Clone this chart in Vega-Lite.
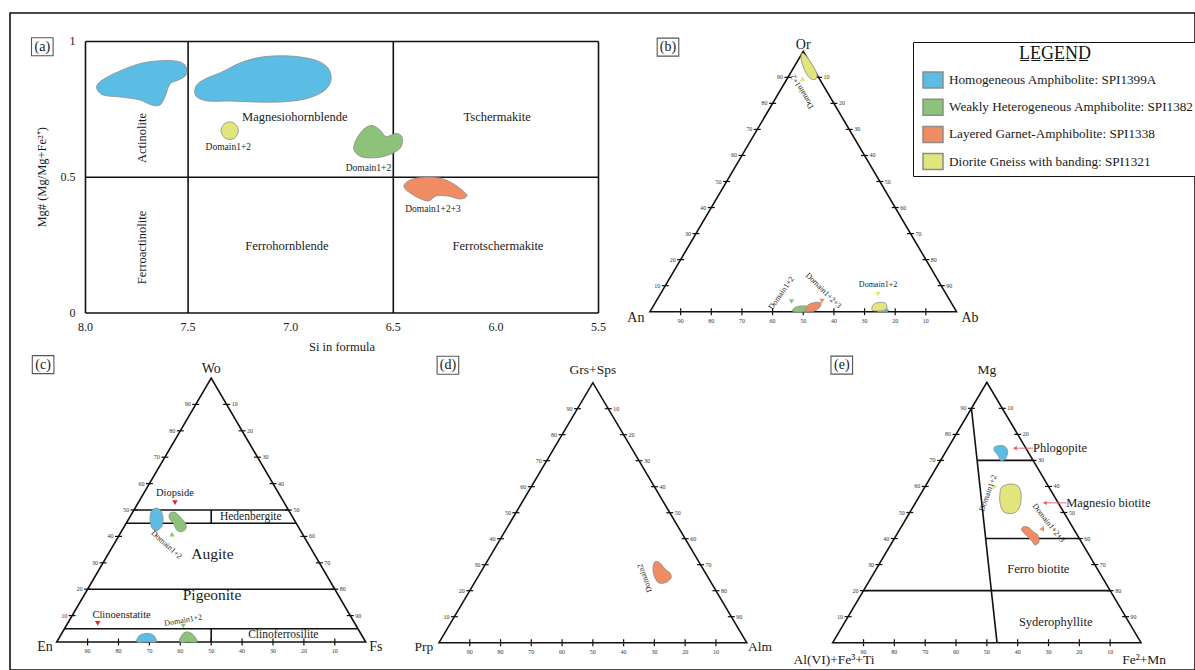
{
  "$schema": "https://vega.github.io/schema/vega-lite/v6.json",
  "width": 1185,
  "height": 657,
  "autosize": {"type": "none"},
  "padding": {"left": 10, "top": 13, "right": 0, "bottom": 0},
  "background": "white",
  "config": {
    "view": {"stroke": "#111111", "strokeWidth": 1.6},
    "text": {"font": "Liberation Serif", "color": "#1a1a1a"},
    "legend": {
      "titleFont": "Liberation Serif", "titleFontSize": 18, "titleFontWeight": "normal", "titleColor": "#111111",
      "titleAnchor": "middle", "titlePadding": 6, "titleLimit": 300,
      "labelFont": "Liberation Serif", "labelFontSize": 13.2, "labelColor": "#1a1a1a", "labelLimit": 400, "labelOffset": 5,
      "symbolType": "M-1,-0.8L1,-0.8L1,0.8L-1,0.8Z", "symbolSize": 400, "symbolStrokeColor": "#8c8c8c", "symbolStrokeWidth": 1.5,
      "symbolOpacity": 1, "rowPadding": 5.2, "padding": 3, "symbolOffset": 6, "strokeColor": "#111111", "fillColor": "#ffffff"
    }
  },
  "datasets": {
    "tri": [{"i": 0, "x": 0, "y": 0}, {"i": 1, "x": 100, "y": 0}, {"i": 2, "x": 50, "y": 86.603}],
    "ticks": [
      {"side": "L", "v": 10, "x": 5, "y": 8.66}, {"side": "L", "v": 20, "x": 10, "y": 17.321}, {"side": "L", "v": 30, "x": 15, "y": 25.981},
      {"side": "L", "v": 40, "x": 20, "y": 34.641}, {"side": "L", "v": 50, "x": 25, "y": 43.301}, {"side": "L", "v": 60, "x": 30, "y": 51.962},
      {"side": "L", "v": 70, "x": 35, "y": 60.622}, {"side": "L", "v": 80, "x": 40, "y": 69.282}, {"side": "L", "v": 90, "x": 45, "y": 77.942},
      {"side": "R", "v": 10, "x": 55, "y": 77.942}, {"side": "R", "v": 20, "x": 60, "y": 69.282}, {"side": "R", "v": 30, "x": 65, "y": 60.622},
      {"side": "R", "v": 40, "x": 70, "y": 51.962}, {"side": "R", "v": 50, "x": 75, "y": 43.301}, {"side": "R", "v": 60, "x": 80, "y": 34.641},
      {"side": "R", "v": 70, "x": 85, "y": 25.981}, {"side": "R", "v": 80, "x": 90, "y": 17.321}, {"side": "R", "v": 90, "x": 95, "y": 8.66},
      {"side": "B", "v": 10, "x": 90, "y": 0}, {"side": "B", "v": 20, "x": 80, "y": 0}, {"side": "B", "v": 30, "x": 70, "y": 0},
      {"side": "B", "v": 40, "x": 60, "y": 0}, {"side": "B", "v": 50, "x": 50, "y": 0}, {"side": "B", "v": 60, "x": 40, "y": 0},
      {"side": "B", "v": 70, "x": 30, "y": 0}, {"side": "B", "v": 80, "x": 20, "y": 0}, {"side": "B", "v": 90, "x": 10, "y": 0}
    ]
  },
  "resolve": {"scale": {"x": "independent", "y": "independent"}},
  "layer": [
    {
      "encoding": {
        "x": {"field": "si", "type": "quantitative", "scale": {"domain": [8.36793, 2.59308], "nice": false, "zero": false}, "axis": null},
        "y": {"field": "mg", "type": "quantitative", "scale": {"domain": [-1.31492, 1.10497], "nice": false, "zero": false}, "axis": null}
      },
      "layer": [
        {
          "data": {"values": [
            {"si": 8.0, "mg": 0, "si2": 8.0, "mg2": 1}, {"si": 7.5, "mg": 0, "si2": 7.5, "mg2": 1},
            {"si": 6.5, "mg": 0, "si2": 6.5, "mg2": 1}, {"si": 5.5, "mg": 0, "si2": 5.5, "mg2": 1},
            {"si": 8.0, "mg": 0, "si2": 5.5, "mg2": 0}, {"si": 8.0, "mg": 0.5, "si2": 5.5, "mg2": 0.5},
            {"si": 8.0, "mg": 1, "si2": 5.5, "mg2": 1}
          ]},
          "mark": {"type": "rule", "stroke": "#111111", "strokeWidth": 1.6},
          "encoding": {"x2": {"field": "si2"}, "y2": {"field": "mg2"}}
        },
        {
          "data": {"values": [
            {"sample": "Homogeneous Amphibolite: SPI1399A", "blob": "a1", "i": 0, "si": 7.9454, "mg": 0.8276},
            {"sample": "Homogeneous Amphibolite: SPI1399A", "blob": "a1", "i": 1, "si": 7.9293, "mg": 0.8519},
            {"sample": "Homogeneous Amphibolite: SPI1399A", "blob": "a1", "i": 2, "si": 7.8645, "mg": 0.8803},
            {"sample": "Homogeneous Amphibolite: SPI1399A", "blob": "a1", "i": 3, "si": 7.7671, "mg": 0.9109},
            {"sample": "Homogeneous Amphibolite: SPI1399A", "blob": "a1", "i": 4, "si": 7.6857, "mg": 0.9256},
            {"sample": "Homogeneous Amphibolite: SPI1399A", "blob": "a1", "i": 5, "si": 7.5721, "mg": 0.9293},
            {"sample": "Homogeneous Amphibolite: SPI1399A", "blob": "a1", "i": 6, "si": 7.5151, "mg": 0.9134},
            {"sample": "Homogeneous Amphibolite: SPI1399A", "blob": "a1", "i": 7, "si": 7.5102, "mg": 0.8766},
            {"sample": "Homogeneous Amphibolite: SPI1399A", "blob": "a1", "i": 8, "si": 7.5478, "mg": 0.8582},
            {"sample": "Homogeneous Amphibolite: SPI1399A", "blob": "a1", "i": 9, "si": 7.5882, "mg": 0.8435},
            {"sample": "Homogeneous Amphibolite: SPI1399A", "blob": "a1", "i": 10, "si": 7.6126, "mg": 0.7967},
            {"sample": "Homogeneous Amphibolite: SPI1399A", "blob": "a1", "i": 11, "si": 7.637, "mg": 0.7661},
            {"sample": "Homogeneous Amphibolite: SPI1399A", "blob": "a1", "i": 12, "si": 7.6774, "mg": 0.7661},
            {"sample": "Homogeneous Amphibolite: SPI1399A", "blob": "a1", "i": 13, "si": 7.7344, "mg": 0.7845},
            {"sample": "Homogeneous Amphibolite: SPI1399A", "blob": "a1", "i": 14, "si": 7.8158, "mg": 0.7945},
            {"sample": "Homogeneous Amphibolite: SPI1399A", "blob": "a1", "i": 15, "si": 7.9133, "mg": 0.8029},
            {"sample": "Homogeneous Amphibolite: SPI1399A", "blob": "a2", "i": 0, "si": 7.4615, "mg": 0.7993},
            {"sample": "Homogeneous Amphibolite: SPI1399A", "blob": "a2", "i": 1, "si": 7.4615, "mg": 0.8361},
            {"sample": "Homogeneous Amphibolite: SPI1399A", "blob": "a2", "i": 2, "si": 7.4176, "mg": 0.8619},
            {"sample": "Homogeneous Amphibolite: SPI1399A", "blob": "a2", "i": 3, "si": 7.3348, "mg": 0.8877},
            {"sample": "Homogeneous Amphibolite: SPI1399A", "blob": "a2", "i": 4, "si": 7.2471, "mg": 0.9208},
            {"sample": "Homogeneous Amphibolite: SPI1399A", "blob": "a2", "i": 5, "si": 7.1399, "mg": 0.9429},
            {"sample": "Homogeneous Amphibolite: SPI1399A", "blob": "a2", "i": 6, "si": 7.0034, "mg": 0.9466},
            {"sample": "Homogeneous Amphibolite: SPI1399A", "blob": "a2", "i": 7, "si": 6.8816, "mg": 0.9319},
            {"sample": "Homogeneous Amphibolite: SPI1399A", "blob": "a2", "i": 8, "si": 6.8183, "mg": 0.9024},
            {"sample": "Homogeneous Amphibolite: SPI1399A", "blob": "a2", "i": 9, "si": 6.8036, "mg": 0.8582},
            {"sample": "Homogeneous Amphibolite: SPI1399A", "blob": "a2", "i": 10, "si": 6.8378, "mg": 0.8177},
            {"sample": "Homogeneous Amphibolite: SPI1399A", "blob": "a2", "i": 11, "si": 6.9304, "mg": 0.7882},
            {"sample": "Homogeneous Amphibolite: SPI1399A", "blob": "a2", "i": 12, "si": 7.0522, "mg": 0.7772},
            {"sample": "Homogeneous Amphibolite: SPI1399A", "blob": "a2", "i": 13, "si": 7.174, "mg": 0.7772},
            {"sample": "Homogeneous Amphibolite: SPI1399A", "blob": "a2", "i": 14, "si": 7.2958, "mg": 0.7808},
            {"sample": "Homogeneous Amphibolite: SPI1399A", "blob": "a2", "i": 15, "si": 7.403, "mg": 0.7808},
            {"sample": "Weakly Heterogeneous Amphibolite: SPI1382", "blob": "a4", "i": 0, "si": 6.6038, "mg": 0.6906},
            {"sample": "Weakly Heterogeneous Amphibolite: SPI1382", "blob": "a4", "i": 1, "si": 6.5648, "mg": 0.674},
            {"sample": "Weakly Heterogeneous Amphibolite: SPI1382", "blob": "a4", "i": 2, "si": 6.5356, "mg": 0.6501},
            {"sample": "Weakly Heterogeneous Amphibolite: SPI1382", "blob": "a4", "i": 3, "si": 6.4869, "mg": 0.6611},
            {"sample": "Weakly Heterogeneous Amphibolite: SPI1382", "blob": "a4", "i": 4, "si": 6.4576, "mg": 0.6483},
            {"sample": "Weakly Heterogeneous Amphibolite: SPI1382", "blob": "a4", "i": 5, "si": 6.4625, "mg": 0.6114},
            {"sample": "Weakly Heterogeneous Amphibolite: SPI1382", "blob": "a4", "i": 6, "si": 6.5063, "mg": 0.5875},
            {"sample": "Weakly Heterogeneous Amphibolite: SPI1382", "blob": "a4", "i": 7, "si": 6.5746, "mg": 0.5727},
            {"sample": "Weakly Heterogeneous Amphibolite: SPI1382", "blob": "a4", "i": 8, "si": 6.6526, "mg": 0.5746},
            {"sample": "Weakly Heterogeneous Amphibolite: SPI1382", "blob": "a4", "i": 9, "si": 6.6915, "mg": 0.6004},
            {"sample": "Weakly Heterogeneous Amphibolite: SPI1382", "blob": "a4", "i": 10, "si": 6.6818, "mg": 0.6372},
            {"sample": "Weakly Heterogeneous Amphibolite: SPI1382", "blob": "a4", "i": 11, "si": 6.6428, "mg": 0.6777},
            {"sample": "Layered Garnet-Amphibolite: SPI1338", "blob": "a5", "i": 0, "si": 6.4478, "mg": 0.4641},
            {"sample": "Layered Garnet-Amphibolite: SPI1338", "blob": "a5", "i": 1, "si": 6.4186, "mg": 0.4899},
            {"sample": "Layered Garnet-Amphibolite: SPI1338", "blob": "a5", "i": 2, "si": 6.3455, "mg": 0.5009},
            {"sample": "Layered Garnet-Amphibolite: SPI1338", "blob": "a5", "i": 3, "si": 6.2724, "mg": 0.4972},
            {"sample": "Layered Garnet-Amphibolite: SPI1338", "blob": "a5", "i": 4, "si": 6.2139, "mg": 0.4788},
            {"sample": "Layered Garnet-Amphibolite: SPI1338", "blob": "a5", "i": 5, "si": 6.1652, "mg": 0.453},
            {"sample": "Layered Garnet-Amphibolite: SPI1338", "blob": "a5", "i": 6, "si": 6.1408, "mg": 0.4309},
            {"sample": "Layered Garnet-Amphibolite: SPI1338", "blob": "a5", "i": 7, "si": 6.175, "mg": 0.4199},
            {"sample": "Layered Garnet-Amphibolite: SPI1338", "blob": "a5", "i": 8, "si": 6.2335, "mg": 0.4309},
            {"sample": "Layered Garnet-Amphibolite: SPI1338", "blob": "a5", "i": 9, "si": 6.2919, "mg": 0.4309},
            {"sample": "Layered Garnet-Amphibolite: SPI1338", "blob": "a5", "i": 10, "si": 6.3309, "mg": 0.4125},
            {"sample": "Layered Garnet-Amphibolite: SPI1338", "blob": "a5", "i": 11, "si": 6.3943, "mg": 0.4309},
            {"sample": "Diorite Gneiss with banding: SPI1321", "blob": "a3", "i": 0, "si": 7.3397, "mg": 0.6703},
            {"sample": "Diorite Gneiss with banding: SPI1321", "blob": "a3", "i": 1, "si": 7.325, "mg": 0.6961},
            {"sample": "Diorite Gneiss with banding: SPI1321", "blob": "a3", "i": 2, "si": 7.2909, "mg": 0.7035},
            {"sample": "Diorite Gneiss with banding: SPI1321", "blob": "a3", "i": 3, "si": 7.2617, "mg": 0.6888},
            {"sample": "Diorite Gneiss with banding: SPI1321", "blob": "a3", "i": 4, "si": 7.2568, "mg": 0.663},
            {"sample": "Diorite Gneiss with banding: SPI1321", "blob": "a3", "i": 5, "si": 7.2812, "mg": 0.6409},
            {"sample": "Diorite Gneiss with banding: SPI1321", "blob": "a3", "i": 6, "si": 7.3202, "mg": 0.6446}
          ]},
          "mark": {"type": "line", "interpolate": "cardinal-closed", "stroke": "#8c8c8c", "strokeWidth": 0.8},
          "encoding": {
            "detail": {"field": "blob", "type": "nominal"},
            "order": {"field": "i", "type": "quantitative"},
            "fill": {"field": "sample", "type": "nominal", "title": "L̲E̲G̲E̲N̲D̲", "scale": {"domain": ["Homogeneous Amphibolite: SPI1399A", "Weakly Heterogeneous Amphibolite: SPI1382", "Layered Garnet-Amphibolite: SPI1338", "Diorite Gneiss with banding: SPI1321"], "range": ["#5bbde4", "#8cc27a", "#f08c63", "#e2e57b"]}, "legend": {"orient": "none", "legendX": 903, "legendY": 29}}
          }
        },
        {
          "data": {"values": [{"si": 8.0, "mg": 1, "t": "1"}, {"si": 8.0, "mg": 0.5, "t": "0.5"}, {"si": 8.0, "mg": 0, "t": "0"}]},
          "mark": {"type": "text", "align": "right", "dx": -10, "fontSize": 12},
          "encoding": {"text": {"field": "t", "type": "nominal"}}
        },
        {
          "data": {"values": [
            {"si": 8.0, "mg": 0, "t": "8.0"}, {"si": 7.5, "mg": 0, "t": "7.5"}, {"si": 7.0, "mg": 0, "t": "7.0"},
            {"si": 6.5, "mg": 0, "t": "6.5"}, {"si": 6.0, "mg": 0, "t": "6.0"}, {"si": 5.5, "mg": 0, "t": "5.5"}
          ]},
          "mark": {"type": "text", "dy": 14, "fontSize": 12},
          "encoding": {"text": {"field": "t", "type": "nominal"}}
        },
        {
          "data": {"values": [{"si": 6.75, "mg": 0, "t": "Si in formula"}]},
          "mark": {"type": "text", "dy": 34, "fontSize": 12.5},
          "encoding": {"text": {"field": "t", "type": "nominal"}}
        },
        {
          "data": {"values": [{"si": 8.213, "mg": 0.5, "t": "Mg# (Mg/Mg+Fe²⁺)"}]},
          "mark": {"type": "text", "angle": 270, "fontSize": 12.5},
          "encoding": {"text": {"field": "t", "type": "nominal"}}
        },
        {
          "data": {"values": [
            {"si": 6.98, "mg": 0.7208, "t": "Magnesiohornblende"}, {"si": 5.994, "mg": 0.7208, "t": "Tschermakite"},
            {"si": 7.0185, "mg": 0.2468, "t": "Ferrohornblende"}, {"si": 5.99, "mg": 0.2468, "t": "Ferrotschermakite"}
          ]},
          "mark": {"type": "text", "fontSize": 12.5},
          "encoding": {"text": {"field": "t", "type": "nominal"}}
        },
        {
          "data": {"values": [{"si": 7.7247, "mg": 0.6446, "t": "Actinolite"}, {"si": 7.7247, "mg": 0.2413, "t": "Ferroactinolite"}]},
          "mark": {"type": "text", "angle": 270, "fontSize": 12.5},
          "encoding": {"text": {"field": "t", "type": "nominal"}}
        },
        {
          "data": {"values": [
            {"si": 7.3041, "mg": 0.6103, "t": "Domain1+2"}, {"si": 6.6209, "mg": 0.5352, "t": "Domain1+2"},
            {"si": 6.3065, "mg": 0.3819, "t": "Domain1+2+3"}
          ]},
          "mark": {"type": "text", "fontSize": 9.5},
          "encoding": {"text": {"field": "t", "type": "nominal"}}
        },
        {
          "data": {"values": [{"si": 8.2105, "mg": 0.9808, "t": "(a)"}]},
          "layer": [
            {"mark": {"type": "point", "shape": "M-1.2,-1L1.2,-1L1.2,1L-1.2,1Z", "size": 324, "filled": false, "stroke": "#555555", "strokeWidth": 1.1, "opacity": 1}},
            {"mark": {"type": "text", "fontSize": 14}, "encoding": {"text": {"field": "t", "type": "nominal"}}}
          ]
        }
      ]
    },
    {
      "encoding": {
        "x": {"field": "x", "type": "quantitative", "scale": {"domain": [-208.809, 177.814], "nice": false, "zero": false}, "axis": null},
        "y": {"field": "y", "type": "quantitative", "scale": {"domain": [-119.164, 99.341], "nice": false, "zero": false}, "axis": null}
      },
      "layer": [
        {"data": {"name": "tri"}, "mark": {"type": "line", "interpolate": "linear-closed", "stroke": "#111111", "strokeWidth": 1.6}, "encoding": {"order": {"field": "i", "type": "quantitative"}}},
        {"data": {"name": "ticks"}, "transform": [{"filter": "datum.side !== 'B'"}], "mark": {"type": "tick", "orient": "horizontal", "size": 7, "thickness": 1.2, "color": "#111111", "opacity": 1}},
        {"data": {"name": "ticks"}, "transform": [{"filter": "datum.side === 'B'"}], "mark": {"type": "tick", "orient": "vertical", "size": 7, "thickness": 1.2, "color": "#111111", "opacity": 1}},
        {"data": {"name": "ticks"}, "transform": [{"filter": "datum.side === 'L'"}], "mark": {"type": "text", "align": "right", "dx": -5, "fontSize": 6, "color": "#333333"}, "encoding": {"text": {"field": "v", "type": "quantitative"}}},
        {"data": {"name": "ticks"}, "transform": [{"filter": "datum.side === 'R'"}], "mark": {"type": "text", "align": "left", "dx": 5, "fontSize": 6, "color": "#333333"}, "encoding": {"text": {"field": "v", "type": "quantitative"}}},
        {"data": {"name": "ticks"}, "transform": [{"filter": "datum.side === 'B'"}], "mark": {"type": "text", "dy": 9, "fontSize": 6, "color": "#333333"}, "encoding": {"text": {"field": "v", "type": "quantitative"}}},
        {
          "data": {"values": [
            {"sample": "Weakly Heterogeneous Amphibolite: SPI1382", "blob": "b2", "i": 0, "x": 46.66, "y": 0.07},
            {"sample": "Weakly Heterogeneous Amphibolite: SPI1382", "blob": "b2", "i": 1, "x": 47.31, "y": 1.4},
            {"sample": "Weakly Heterogeneous Amphibolite: SPI1382", "blob": "b2", "i": 2, "x": 49.27, "y": 1.9},
            {"sample": "Weakly Heterogeneous Amphibolite: SPI1382", "blob": "b2", "i": 3, "x": 51.55, "y": 1.73},
            {"sample": "Weakly Heterogeneous Amphibolite: SPI1382", "blob": "b2", "i": 4, "x": 52.2, "y": 0.73},
            {"sample": "Weakly Heterogeneous Amphibolite: SPI1382", "blob": "b2", "i": 5, "x": 50.9, "y": 0},
            {"sample": "Layered Garnet-Amphibolite: SPI1338", "blob": "b3", "i": 0, "x": 50.9, "y": 0.23},
            {"sample": "Layered Garnet-Amphibolite: SPI1338", "blob": "b3", "i": 1, "x": 51.55, "y": 2.23},
            {"sample": "Layered Garnet-Amphibolite: SPI1338", "blob": "b3", "i": 2, "x": 53.83, "y": 3.06},
            {"sample": "Layered Garnet-Amphibolite: SPI1338", "blob": "b3", "i": 3, "x": 55.79, "y": 2.89},
            {"sample": "Layered Garnet-Amphibolite: SPI1338", "blob": "b3", "i": 4, "x": 55.14, "y": 1.23},
            {"sample": "Layered Garnet-Amphibolite: SPI1338", "blob": "b3", "i": 5, "x": 53.18, "y": 0.07},
            {"sample": "Homogeneous Amphibolite: SPI1399A", "blob": "b4", "i": 0, "x": 74.39, "y": 0},
            {"sample": "Homogeneous Amphibolite: SPI1399A", "blob": "b4", "i": 1, "x": 75.04, "y": 1.06},
            {"sample": "Homogeneous Amphibolite: SPI1399A", "blob": "b4", "i": 2, "x": 76.67, "y": 1.23},
            {"sample": "Homogeneous Amphibolite: SPI1399A", "blob": "b4", "i": 3, "x": 77.65, "y": 0.73},
            {"sample": "Homogeneous Amphibolite: SPI1399A", "blob": "b4", "i": 4, "x": 77.32, "y": 0},
            {"sample": "Diorite Gneiss with banding: SPI1321", "blob": "b5", "i": 0, "x": 72.43, "y": 0.57},
            {"sample": "Diorite Gneiss with banding: SPI1321", "blob": "b5", "i": 1, "x": 72.76, "y": 2.23},
            {"sample": "Diorite Gneiss with banding: SPI1321", "blob": "b5", "i": 2, "x": 74.39, "y": 3.06},
            {"sample": "Diorite Gneiss with banding: SPI1321", "blob": "b5", "i": 3, "x": 76.67, "y": 2.89},
            {"sample": "Diorite Gneiss with banding: SPI1321", "blob": "b5", "i": 4, "x": 77.32, "y": 1.56},
            {"sample": "Diorite Gneiss with banding: SPI1321", "blob": "b5", "i": 5, "x": 76.35, "y": 0.4},
            {"sample": "Diorite Gneiss with banding: SPI1321", "blob": "b5", "i": 6, "x": 73.74, "y": 0.23},
            {"sample": "Diorite Gneiss with banding: SPI1321", "blob": "b1", "i": 0, "x": 49.9, "y": 86.0},
            {"sample": "Diorite Gneiss with banding: SPI1321", "blob": "b1", "i": 1, "x": 51.22, "y": 84.71},
            {"sample": "Diorite Gneiss with banding: SPI1321", "blob": "b1", "i": 2, "x": 53.18, "y": 81.72},
            {"sample": "Diorite Gneiss with banding: SPI1321", "blob": "b1", "i": 3, "x": 54.49, "y": 79.06},
            {"sample": "Diorite Gneiss with banding: SPI1321", "blob": "b1", "i": 4, "x": 54.16, "y": 77.4},
            {"sample": "Diorite Gneiss with banding: SPI1321", "blob": "b1", "i": 5, "x": 52.53, "y": 77.4},
            {"sample": "Diorite Gneiss with banding: SPI1321", "blob": "b1", "i": 6, "x": 50.9, "y": 79.39},
            {"sample": "Diorite Gneiss with banding: SPI1321", "blob": "b1", "i": 7, "x": 49.59, "y": 82.72},
            {"sample": "Diorite Gneiss with banding: SPI1321", "blob": "b1", "i": 8, "x": 49.27, "y": 85.05}
          ]},
          "mark": {"type": "line", "interpolate": "cardinal-closed", "stroke": "#8c8c8c", "strokeWidth": 0.8},
          "encoding": {
            "detail": {"field": "blob", "type": "nominal"},
            "order": {"field": "i", "type": "quantitative"},
            "fill": {"field": "sample", "type": "nominal", "title": "L̲E̲G̲E̲N̲D̲", "scale": {"domain": ["Homogeneous Amphibolite: SPI1399A", "Weakly Heterogeneous Amphibolite: SPI1382", "Layered Garnet-Amphibolite: SPI1338", "Diorite Gneiss with banding: SPI1321"], "range": ["#5bbde4", "#8cc27a", "#f08c63", "#e2e57b"]}, "legend": {"orient": "none", "legendX": 903, "legendY": 29}}
          }
        },
        {
          "data": {"values": [{"x": 49.8, "y": 77.5, "sample": "Diorite Gneiss with banding: SPI1321"}]},
          "mark": {"type": "point", "shape": "triangle-up", "filled": true, "size": 28, "opacity": 1, "strokeWidth": 0},
          "encoding": {"fill": {"field": "sample", "type": "nominal", "title": "L̲E̲G̲E̲N̲D̲", "scale": {"domain": ["Homogeneous Amphibolite: SPI1399A", "Weakly Heterogeneous Amphibolite: SPI1382", "Layered Garnet-Amphibolite: SPI1338", "Diorite Gneiss with banding: SPI1321"], "range": ["#5bbde4", "#8cc27a", "#f08c63", "#e2e57b"]}, "legend": {"orient": "none", "legendX": 903, "legendY": 29}}}
        },
        {
          "data": {"values": [
            {"x": 46.17, "y": 3.39, "sample": "Weakly Heterogeneous Amphibolite: SPI1382"},
            {"x": 56.12, "y": 3.56, "sample": "Layered Garnet-Amphibolite: SPI1338"},
            {"x": 74.39, "y": 5.89, "sample": "Diorite Gneiss with banding: SPI1321"}
          ]},
          "mark": {"type": "point", "shape": "triangle-down", "filled": true, "size": 28, "opacity": 1, "strokeWidth": 0},
          "encoding": {"fill": {"field": "sample", "type": "nominal", "title": "L̲E̲G̲E̲N̲D̲", "scale": {"domain": ["Homogeneous Amphibolite: SPI1399A", "Weakly Heterogeneous Amphibolite: SPI1382", "Layered Garnet-Amphibolite: SPI1338", "Diorite Gneiss with banding: SPI1321"], "range": ["#5bbde4", "#8cc27a", "#f08c63", "#e2e57b"]}, "legend": {"orient": "none", "legendX": 903, "legendY": 29}}}
        },
        {
          "data": {"values": [{"x": 50, "y": 88.8, "t": "Or"}, {"x": -4.6, "y": -2.1, "t": "An"}, {"x": 104.4, "y": -2.1, "t": "Ab"}]},
          "mark": {"type": "text", "fontSize": 14},
          "encoding": {"text": {"field": "t", "type": "nominal"}}
        },
        {"data": {"values": [{"x": 49.76, "y": 73.23, "t": "Domain1+2"}]}, "mark": {"type": "text", "angle": 240, "fontSize": 8}, "encoding": {"text": {"field": "t", "type": "nominal"}}},
        {"data": {"values": [{"x": 42.97, "y": 6.12, "t": "Domain1+2"}]}, "mark": {"type": "text", "angle": 305, "fontSize": 8}, "encoding": {"text": {"field": "t", "type": "nominal"}}},
        {"data": {"values": [{"x": 56.54, "y": 6.95, "t": "Domain1+2+3"}]}, "mark": {"type": "text", "angle": 45, "fontSize": 8}, "encoding": {"text": {"field": "t", "type": "nominal"}}},
        {"data": {"values": [{"x": 74.39, "y": 8.88, "t": "Domain1+2"}]}, "mark": {"type": "text", "fontSize": 8}, "encoding": {"text": {"field": "t", "type": "nominal"}}},
        {
          "data": {"values": [{"x": 5.87, "y": 88.0, "t": "(b)"}]},
          "layer": [
            {"mark": {"type": "point", "shape": "M-1.2,-1L1.2,-1L1.2,1L-1.2,1Z", "size": 324, "filled": false, "stroke": "#555555", "strokeWidth": 1.1, "opacity": 1}},
            {"mark": {"type": "text", "fontSize": 14}, "encoding": {"text": {"field": "t", "type": "nominal"}}}
          ]
        }
      ]
    },
    {
      "encoding": {
        "x": {"field": "x", "type": "quantitative", "scale": {"domain": [-15.113, 368.382], "nice": false, "zero": false}, "axis": null},
        "y": {"field": "y", "type": "quantitative", "scale": {"domain": [-9.185, 206.338], "nice": false, "zero": false}, "axis": null}
      },
      "layer": [
        {"data": {"name": "tri"}, "mark": {"type": "line", "interpolate": "linear-closed", "stroke": "#111111", "strokeWidth": 1.6}, "encoding": {"order": {"field": "i", "type": "quantitative"}}},
        {"data": {"name": "ticks"}, "transform": [{"filter": "datum.side !== 'B'"}], "mark": {"type": "tick", "orient": "horizontal", "size": 7, "thickness": 1.2, "color": "#111111", "opacity": 1}},
        {"data": {"name": "ticks"}, "transform": [{"filter": "datum.side === 'B'"}], "mark": {"type": "tick", "orient": "vertical", "size": 7, "thickness": 1.2, "color": "#111111", "opacity": 1}},
        {"data": {"name": "ticks"}, "transform": [{"filter": "datum.side === 'L'"}], "mark": {"type": "text", "align": "right", "dx": -5, "fontSize": 6, "color": "#333333"}, "encoding": {"text": {"field": "v", "type": "quantitative"}}},
        {"data": {"name": "ticks"}, "transform": [{"filter": "datum.side === 'R'"}], "mark": {"type": "text", "align": "left", "dx": 5, "fontSize": 6, "color": "#333333"}, "encoding": {"text": {"field": "v", "type": "quantitative"}}},
        {"data": {"name": "ticks"}, "transform": [{"filter": "datum.side === 'B'"}], "mark": {"type": "text", "dy": 9, "fontSize": 6, "color": "#333333"}, "encoding": {"text": {"field": "v", "type": "quantitative"}}},
        {
          "data": {"values": [
            {"x": 25, "y": 43.301, "x2": 75, "y2": 43.301}, {"x": 22.5, "y": 38.971, "x2": 77.5, "y2": 38.971},
            {"x": 10, "y": 17.321, "x2": 90, "y2": 17.321}, {"x": 2.5, "y": 4.33, "x2": 97.5, "y2": 4.33},
            {"x": 50, "y": 38.971, "x2": 50, "y2": 43.301}, {"x": 50, "y": 0, "x2": 50, "y2": 4.33}
          ]},
          "mark": {"type": "rule", "stroke": "#111111", "strokeWidth": 1.6},
          "encoding": {"x2": {"field": "x2"}, "y2": {"field": "y2"}}
        },
        {
          "data": {"values": [
            {"sample": "Homogeneous Amphibolite: SPI1399A", "blob": "c1", "i": 0, "x": 32.3, "y": 43.96},
            {"sample": "Homogeneous Amphibolite: SPI1399A", "blob": "c1", "i": 1, "x": 33.75, "y": 42.97},
            {"sample": "Homogeneous Amphibolite: SPI1399A", "blob": "c1", "i": 2, "x": 34.4, "y": 40.68},
            {"sample": "Homogeneous Amphibolite: SPI1399A", "blob": "c1", "i": 3, "x": 34.08, "y": 38.05},
            {"sample": "Homogeneous Amphibolite: SPI1399A", "blob": "c1", "i": 4, "x": 32.46, "y": 36.58},
            {"sample": "Homogeneous Amphibolite: SPI1399A", "blob": "c1", "i": 5, "x": 30.84, "y": 37.4},
            {"sample": "Homogeneous Amphibolite: SPI1399A", "blob": "c1", "i": 6, "x": 30.19, "y": 40.35},
            {"sample": "Homogeneous Amphibolite: SPI1399A", "blob": "c1", "i": 7, "x": 30.68, "y": 42.97},
            {"sample": "Homogeneous Amphibolite: SPI1399A", "blob": "c3", "i": 0, "x": 25.99, "y": 0},
            {"sample": "Homogeneous Amphibolite: SPI1399A", "blob": "c3", "i": 1, "x": 26.63, "y": 1.97},
            {"sample": "Homogeneous Amphibolite: SPI1399A", "blob": "c3", "i": 2, "x": 28.58, "y": 2.79},
            {"sample": "Homogeneous Amphibolite: SPI1399A", "blob": "c3", "i": 3, "x": 30.52, "y": 2.62},
            {"sample": "Homogeneous Amphibolite: SPI1399A", "blob": "c3", "i": 4, "x": 31.81, "y": 1.64},
            {"sample": "Homogeneous Amphibolite: SPI1399A", "blob": "c3", "i": 5, "x": 32.14, "y": 0},
            {"sample": "Homogeneous Amphibolite: SPI1399A", "blob": "c3", "i": 6, "x": 29.06, "y": 0},
            {"sample": "Weakly Heterogeneous Amphibolite: SPI1382", "blob": "c2", "i": 0, "x": 36.67, "y": 42.22},
            {"sample": "Weakly Heterogeneous Amphibolite: SPI1382", "blob": "c2", "i": 1, "x": 38.28, "y": 42.55},
            {"sample": "Weakly Heterogeneous Amphibolite: SPI1382", "blob": "c2", "i": 2, "x": 39.9, "y": 41.1},
            {"sample": "Weakly Heterogeneous Amphibolite: SPI1382", "blob": "c2", "i": 3, "x": 41.52, "y": 39.14},
            {"sample": "Weakly Heterogeneous Amphibolite: SPI1382", "blob": "c2", "i": 4, "x": 41.84, "y": 37.3},
            {"sample": "Weakly Heterogeneous Amphibolite: SPI1382", "blob": "c2", "i": 5, "x": 40.45, "y": 36.18},
            {"sample": "Weakly Heterogeneous Amphibolite: SPI1382", "blob": "c2", "i": 6, "x": 38.83, "y": 36.74},
            {"sample": "Weakly Heterogeneous Amphibolite: SPI1382", "blob": "c2", "i": 7, "x": 37.74, "y": 38.94},
            {"sample": "Weakly Heterogeneous Amphibolite: SPI1382", "blob": "c2", "i": 8, "x": 36.44, "y": 40.58},
            {"sample": "Weakly Heterogeneous Amphibolite: SPI1382", "blob": "c4", "i": 0, "x": 39.9, "y": 0},
            {"sample": "Weakly Heterogeneous Amphibolite: SPI1382", "blob": "c4", "i": 1, "x": 40.55, "y": 2.3},
            {"sample": "Weakly Heterogeneous Amphibolite: SPI1382", "blob": "c4", "i": 2, "x": 41.84, "y": 3.28},
            {"sample": "Weakly Heterogeneous Amphibolite: SPI1382", "blob": "c4", "i": 3, "x": 43.46, "y": 2.95},
            {"sample": "Weakly Heterogeneous Amphibolite: SPI1382", "blob": "c4", "i": 4, "x": 44.76, "y": 1.64},
            {"sample": "Weakly Heterogeneous Amphibolite: SPI1382", "blob": "c4", "i": 5, "x": 45.4, "y": 0},
            {"sample": "Weakly Heterogeneous Amphibolite: SPI1382", "blob": "c4", "i": 6, "x": 42.49, "y": 0}
          ]},
          "mark": {"type": "line", "interpolate": "cardinal-closed", "stroke": "#8c8c8c", "strokeWidth": 0.8},
          "encoding": {
            "detail": {"field": "blob", "type": "nominal"},
            "order": {"field": "i", "type": "quantitative"},
            "fill": {"field": "sample", "type": "nominal", "title": "L̲E̲G̲E̲N̲D̲", "scale": {"domain": ["Homogeneous Amphibolite: SPI1399A", "Weakly Heterogeneous Amphibolite: SPI1382", "Layered Garnet-Amphibolite: SPI1338", "Diorite Gneiss with banding: SPI1321"], "range": ["#5bbde4", "#8cc27a", "#f08c63", "#e2e57b"]}, "legend": {"orient": "none", "legendX": 903, "legendY": 29}}
          }
        },
        {
          "data": {"values": [{"x": 37.31, "y": 35.33, "sample": "Weakly Heterogeneous Amphibolite: SPI1382"}]},
          "mark": {"type": "point", "shape": "triangle-up", "filled": true, "size": 28, "opacity": 1, "strokeWidth": 0},
          "encoding": {"fill": {"field": "sample", "type": "nominal", "title": "L̲E̲G̲E̲N̲D̲", "scale": {"domain": ["Homogeneous Amphibolite: SPI1399A", "Weakly Heterogeneous Amphibolite: SPI1382", "Layered Garnet-Amphibolite: SPI1338", "Diorite Gneiss with banding: SPI1321"], "range": ["#5bbde4", "#8cc27a", "#f08c63", "#e2e57b"]}, "legend": {"orient": "none", "legendX": 903, "legendY": 29}}}
        },
        {
          "data": {"values": [{"x": 40.97, "y": 5.25, "sample": "Weakly Heterogeneous Amphibolite: SPI1382"}]},
          "mark": {"type": "point", "shape": "triangle-down", "filled": true, "size": 28, "opacity": 1, "strokeWidth": 0},
          "encoding": {"fill": {"field": "sample", "type": "nominal", "title": "L̲E̲G̲E̲N̲D̲", "scale": {"domain": ["Homogeneous Amphibolite: SPI1399A", "Weakly Heterogeneous Amphibolite: SPI1382", "Layered Garnet-Amphibolite: SPI1338", "Diorite Gneiss with banding: SPI1321"], "range": ["#5bbde4", "#8cc27a", "#f08c63", "#e2e57b"]}, "legend": {"orient": "none", "legendX": 903, "legendY": 29}}}
        },
        {
          "data": {"values": [{"x": 38.28, "y": 45.7}, {"x": 13.27, "y": 6.13}]},
          "mark": {"type": "point", "shape": "triangle-down", "filled": true, "size": 30, "opacity": 1, "color": "#e32626", "strokeWidth": 0}
        },
        {
          "data": {"values": [{"x": 50, "y": 89.6, "t": "Wo"}, {"x": -3.8, "y": -1.6, "t": "En"}, {"x": 103.3, "y": -1.6, "t": "Fs"}]},
          "mark": {"type": "text", "fontSize": 14},
          "encoding": {"text": {"field": "t", "type": "nominal"}}
        },
        {
          "data": {"values": [{"x": 38.28, "y": 48.88, "t": "Diopside"}, {"x": 21.0, "y": 8.86, "t": "Clinoenstatite"}]},
          "mark": {"type": "text", "fontSize": 10.5},
          "encoding": {"text": {"field": "t", "type": "nominal"}}
        },
        {
          "data": {"values": [{"x": 62.8, "y": 41.0, "t": "Hedenbergite"}, {"x": 73.33, "y": 2.3, "t": "Clinoferrosilite"}]},
          "mark": {"type": "text", "fontSize": 11.5},
          "encoding": {"text": {"field": "t", "type": "nominal"}}
        },
        {
          "data": {"values": [{"x": 50.4, "y": 28.9, "t": "Augite"}, {"x": 50.26, "y": 15.42, "t": "Pigeonite"}]},
          "mark": {"type": "text", "fontSize": 15.5},
          "encoding": {"text": {"field": "t", "type": "nominal"}}
        },
        {"data": {"values": [{"x": 35.5, "y": 31.8, "t": "Domain1+2"}]}, "mark": {"type": "text", "angle": 42, "fontSize": 8}, "encoding": {"text": {"field": "t", "type": "nominal"}}},
        {"data": {"values": [{"x": 40.97, "y": 6.99, "t": "Domain1+2"}]}, "mark": {"type": "text", "angle": 350, "fontSize": 8}, "encoding": {"text": {"field": "t", "type": "nominal"}}},
        {
          "data": {"values": [{"x": -4.4, "y": 91.0, "t": "(c)"}]},
          "layer": [
            {"mark": {"type": "point", "shape": "M-1.2,-1L1.2,-1L1.2,1L-1.2,1Z", "size": 324, "filled": false, "stroke": "#555555", "strokeWidth": 1.1, "opacity": 1}},
            {"mark": {"type": "text", "fontSize": 14}, "encoding": {"text": {"field": "t", "type": "nominal"}}}
          ]
        }
      ]
    },
    {
      "encoding": {
        "x": {"field": "x", "type": "quantitative", "scale": {"domain": [-139.422, 245.694], "nice": false, "zero": false}, "axis": null},
        "y": {"field": "y", "type": "quantitative", "scale": {"domain": [-9.093, 209.746], "nice": false, "zero": false}, "axis": null}
      },
      "layer": [
        {"data": {"name": "tri"}, "mark": {"type": "line", "interpolate": "linear-closed", "stroke": "#111111", "strokeWidth": 1.6}, "encoding": {"order": {"field": "i", "type": "quantitative"}}},
        {"data": {"name": "ticks"}, "transform": [{"filter": "datum.side !== 'B'"}], "mark": {"type": "tick", "orient": "horizontal", "size": 7, "thickness": 1.2, "color": "#111111", "opacity": 1}},
        {"data": {"name": "ticks"}, "transform": [{"filter": "datum.side === 'B'"}], "mark": {"type": "tick", "orient": "vertical", "size": 7, "thickness": 1.2, "color": "#111111", "opacity": 1}},
        {"data": {"name": "ticks"}, "transform": [{"filter": "datum.side === 'L'"}], "mark": {"type": "text", "align": "right", "dx": -5, "fontSize": 6, "color": "#333333"}, "encoding": {"text": {"field": "v", "type": "quantitative"}}},
        {"data": {"name": "ticks"}, "transform": [{"filter": "datum.side === 'R'"}], "mark": {"type": "text", "align": "left", "dx": 5, "fontSize": 6, "color": "#333333"}, "encoding": {"text": {"field": "v", "type": "quantitative"}}},
        {"data": {"name": "ticks"}, "transform": [{"filter": "datum.side === 'B'"}], "mark": {"type": "text", "dy": 9, "fontSize": 6, "color": "#333333"}, "encoding": {"text": {"field": "v", "type": "quantitative"}}},
        {
          "data": {"values": [
            {"sample": "Layered Garnet-Amphibolite: SPI1338", "blob": "d1", "i": 0, "x": 70.85, "y": 27.05},
            {"sample": "Layered Garnet-Amphibolite: SPI1338", "blob": "d1", "i": 1, "x": 72.15, "y": 26.21},
            {"sample": "Layered Garnet-Amphibolite: SPI1338", "blob": "d1", "i": 2, "x": 73.45, "y": 24.55},
            {"sample": "Layered Garnet-Amphibolite: SPI1338", "blob": "d1", "i": 3, "x": 75.07, "y": 23.22},
            {"sample": "Layered Garnet-Amphibolite: SPI1338", "blob": "d1", "i": 4, "x": 75.4, "y": 21.55},
            {"sample": "Layered Garnet-Amphibolite: SPI1338", "blob": "d1", "i": 5, "x": 73.77, "y": 20.05},
            {"sample": "Layered Garnet-Amphibolite: SPI1338", "blob": "d1", "i": 6, "x": 71.5, "y": 19.89},
            {"sample": "Layered Garnet-Amphibolite: SPI1338", "blob": "d1", "i": 7, "x": 70.2, "y": 21.55},
            {"sample": "Layered Garnet-Amphibolite: SPI1338", "blob": "d1", "i": 8, "x": 69.55, "y": 24.22},
            {"sample": "Layered Garnet-Amphibolite: SPI1338", "blob": "d1", "i": 9, "x": 69.87, "y": 26.55}
          ]},
          "mark": {"type": "line", "interpolate": "cardinal-closed", "stroke": "#8c8c8c", "strokeWidth": 0.8},
          "encoding": {
            "detail": {"field": "blob", "type": "nominal"},
            "order": {"field": "i", "type": "quantitative"},
            "fill": {"field": "sample", "type": "nominal", "title": "L̲E̲G̲E̲N̲D̲", "scale": {"domain": ["Homogeneous Amphibolite: SPI1399A", "Weakly Heterogeneous Amphibolite: SPI1382", "Layered Garnet-Amphibolite: SPI1338", "Diorite Gneiss with banding: SPI1321"], "range": ["#5bbde4", "#8cc27a", "#f08c63", "#e2e57b"]}, "legend": {"orient": "none", "legendX": 903, "legendY": 29}}
          }
        },
        {
          "data": {"values": [{"x": 50, "y": 90.8, "t": "Grs+Sps"}, {"x": -4.9, "y": -1.4, "t": "Prp"}, {"x": 104.3, "y": -1.4, "t": "Alm"}]},
          "mark": {"type": "text", "fontSize": 13.5},
          "encoding": {"text": {"field": "t", "type": "nominal"}}
        },
        {"data": {"values": [{"x": 66.95, "y": 21.55, "t": "Domain2"}]}, "mark": {"type": "text", "angle": 250, "fontSize": 8}, "encoding": {"text": {"field": "t", "type": "nominal"}}},
        {
          "data": {"values": [{"x": 2.9, "y": 92.4, "t": "(d)"}]},
          "layer": [
            {"mark": {"type": "point", "shape": "M-1.2,-1L1.2,-1L1.2,1L-1.2,1Z", "size": 324, "filled": false, "stroke": "#555555", "strokeWidth": 1.1, "opacity": 1}},
            {"mark": {"type": "text", "fontSize": 14}, "encoding": {"text": {"field": "t", "type": "nominal"}}}
          ]
        }
      ]
    },
    {
      "encoding": {
        "x": {"field": "x", "type": "quantitative", "scale": {"domain": [-266.85, 117.515], "nice": false, "zero": false}, "axis": null},
        "y": {"field": "y", "type": "quantitative", "scale": {"domain": [-9.079, 209.425], "nice": false, "zero": false}, "axis": null}
      },
      "layer": [
        {"data": {"name": "tri"}, "mark": {"type": "line", "interpolate": "linear-closed", "stroke": "#111111", "strokeWidth": 1.6}, "encoding": {"order": {"field": "i", "type": "quantitative"}}},
        {"data": {"name": "ticks"}, "transform": [{"filter": "datum.side !== 'B'"}], "mark": {"type": "tick", "orient": "horizontal", "size": 7, "thickness": 1.2, "color": "#111111", "opacity": 1}},
        {"data": {"name": "ticks"}, "transform": [{"filter": "datum.side === 'B'"}], "mark": {"type": "tick", "orient": "vertical", "size": 7, "thickness": 1.2, "color": "#111111", "opacity": 1}},
        {"data": {"name": "ticks"}, "transform": [{"filter": "datum.side === 'L'"}], "mark": {"type": "text", "align": "right", "dx": -5, "fontSize": 6, "color": "#333333"}, "encoding": {"text": {"field": "v", "type": "quantitative"}}},
        {"data": {"name": "ticks"}, "transform": [{"filter": "datum.side === 'R'"}], "mark": {"type": "text", "align": "left", "dx": 5, "fontSize": 6, "color": "#333333"}, "encoding": {"text": {"field": "v", "type": "quantitative"}}},
        {"data": {"name": "ticks"}, "transform": [{"filter": "datum.side === 'B'"}], "mark": {"type": "text", "dy": 9, "fontSize": 6, "color": "#333333"}, "encoding": {"text": {"field": "v", "type": "quantitative"}}},
        {
          "data": {"values": [
            {"x": 45, "y": 77.942, "x2": 53.3, "y2": 0}, {"x": 46.85, "y": 60.622, "x2": 65, "y2": 60.622},
            {"x": 49.61, "y": 34.641, "x2": 80, "y2": 34.641}, {"x": 10, "y": 17.321, "x2": 90, "y2": 17.321}
          ]},
          "mark": {"type": "rule", "stroke": "#111111", "strokeWidth": 1.6},
          "encoding": {"x2": {"field": "x2"}, "y2": {"field": "y2"}}
        },
        {
          "data": {"values": [
            {"sample": "Homogeneous Amphibolite: SPI1399A", "blob": "e1", "i": 0, "x": 52.64, "y": 65.19},
            {"sample": "Homogeneous Amphibolite: SPI1399A", "blob": "e1", "i": 1, "x": 55.34, "y": 65.52},
            {"sample": "Homogeneous Amphibolite: SPI1399A", "blob": "e1", "i": 2, "x": 56.76, "y": 63.86},
            {"sample": "Homogeneous Amphibolite: SPI1399A", "blob": "e1", "i": 3, "x": 56.11, "y": 61.33},
            {"sample": "Homogeneous Amphibolite: SPI1399A", "blob": "e1", "i": 4, "x": 54.59, "y": 60.53},
            {"sample": "Homogeneous Amphibolite: SPI1399A", "blob": "e1", "i": 5, "x": 53.52, "y": 62.43},
            {"sample": "Homogeneous Amphibolite: SPI1399A", "blob": "e1", "i": 6, "x": 52.42, "y": 63.86},
            {"sample": "Layered Garnet-Amphibolite: SPI1338", "blob": "e3", "i": 0, "x": 61.82, "y": 38.58},
            {"sample": "Layered Garnet-Amphibolite: SPI1338", "blob": "e3", "i": 1, "x": 63.45, "y": 38.38},
            {"sample": "Layered Garnet-Amphibolite: SPI1338", "blob": "e3", "i": 2, "x": 65.07, "y": 36.92},
            {"sample": "Layered Garnet-Amphibolite: SPI1338", "blob": "e3", "i": 3, "x": 66.49, "y": 35.82},
            {"sample": "Layered Garnet-Amphibolite: SPI1338", "blob": "e3", "i": 4, "x": 66.92, "y": 33.59},
            {"sample": "Layered Garnet-Amphibolite: SPI1338", "blob": "e3", "i": 5, "x": 65.62, "y": 32.49},
            {"sample": "Layered Garnet-Amphibolite: SPI1338", "blob": "e3", "i": 6, "x": 64.32, "y": 34.16},
            {"sample": "Layered Garnet-Amphibolite: SPI1338", "blob": "e3", "i": 7, "x": 62.37, "y": 36.15},
            {"sample": "Layered Garnet-Amphibolite: SPI1338", "blob": "e3", "i": 8, "x": 61.3, "y": 37.48},
            {"sample": "Diorite Gneiss with banding: SPI1321", "blob": "e2", "i": 0, "x": 54.91, "y": 51.78},
            {"sample": "Diorite Gneiss with banding: SPI1321", "blob": "e2", "i": 1, "x": 57.51, "y": 52.78},
            {"sample": "Diorite Gneiss with banding: SPI1321", "blob": "e2", "i": 2, "x": 60.1, "y": 52.11},
            {"sample": "Diorite Gneiss with banding: SPI1321", "blob": "e2", "i": 3, "x": 61.08, "y": 49.45},
            {"sample": "Diorite Gneiss with banding: SPI1321", "blob": "e2", "i": 4, "x": 60.75, "y": 45.46},
            {"sample": "Diorite Gneiss with banding: SPI1321", "blob": "e2", "i": 5, "x": 58.81, "y": 43.13},
            {"sample": "Diorite Gneiss with banding: SPI1321", "blob": "e2", "i": 6, "x": 55.56, "y": 43.46},
            {"sample": "Diorite Gneiss with banding: SPI1321", "blob": "e2", "i": 7, "x": 54.27, "y": 46.46},
            {"sample": "Diorite Gneiss with banding: SPI1321", "blob": "e2", "i": 8, "x": 54.27, "y": 49.78}
          ]},
          "mark": {"type": "line", "interpolate": "cardinal-closed", "stroke": "#8c8c8c", "strokeWidth": 0.8},
          "encoding": {
            "detail": {"field": "blob", "type": "nominal"},
            "order": {"field": "i", "type": "quantitative"},
            "fill": {"field": "sample", "type": "nominal", "title": "L̲E̲G̲E̲N̲D̲", "scale": {"domain": ["Homogeneous Amphibolite: SPI1399A", "Weakly Heterogeneous Amphibolite: SPI1382", "Layered Garnet-Amphibolite: SPI1338", "Diorite Gneiss with banding: SPI1321"], "range": ["#5bbde4", "#8cc27a", "#f08c63", "#e2e57b"]}, "legend": {"orient": "none", "legendX": 903, "legendY": 29}}
          }
        },
        {
          "data": {"values": [{"x": 52.64, "y": 51.88, "sample": "Diorite Gneiss with banding: SPI1321"}]},
          "mark": {"type": "point", "shape": "triangle-right", "filled": true, "size": 28, "opacity": 1, "strokeWidth": 0},
          "encoding": {"fill": {"field": "sample", "type": "nominal", "title": "L̲E̲G̲E̲N̲D̲", "scale": {"domain": ["Homogeneous Amphibolite: SPI1399A", "Weakly Heterogeneous Amphibolite: SPI1382", "Layered Garnet-Amphibolite: SPI1338", "Diorite Gneiss with banding: SPI1321"], "range": ["#5bbde4", "#8cc27a", "#f08c63", "#e2e57b"]}, "legend": {"orient": "none", "legendX": 903, "legendY": 29}}}
        },
        {
          "data": {"values": [{"x": 67.79, "y": 37.81, "sample": "Layered Garnet-Amphibolite: SPI1338"}]},
          "mark": {"type": "point", "shape": "triangle-left", "filled": true, "size": 28, "opacity": 1, "strokeWidth": 0},
          "encoding": {"fill": {"field": "sample", "type": "nominal", "title": "L̲E̲G̲E̲N̲D̲", "scale": {"domain": ["Homogeneous Amphibolite: SPI1399A", "Weakly Heterogeneous Amphibolite: SPI1382", "Layered Garnet-Amphibolite: SPI1338", "Diorite Gneiss with banding: SPI1321"], "range": ["#5bbde4", "#8cc27a", "#f08c63", "#e2e57b"]}, "legend": {"orient": "none", "legendX": 903, "legendY": 29}}}
        },
        {
          "data": {"values": [{"x": 64.97, "y": 64.7, "x2": 59.5, "y2": 64.7}, {"x": 75.9, "y": 46.5, "x2": 69.2, "y2": 46.5}]},
          "mark": {"type": "rule", "stroke": "#f05a5a", "strokeWidth": 0.9},
          "encoding": {"x2": {"field": "x2"}, "y2": {"field": "y2"}}
        },
        {
          "data": {"values": [{"x": 59.1, "y": 64.7}, {"x": 68.8, "y": 46.5}]},
          "mark": {"type": "point", "shape": "triangle-left", "filled": true, "size": 20, "opacity": 1, "color": "#f05a5a", "strokeWidth": 0}
        },
        {
          "data": {"values": [{"x": 50, "y": 90.7, "t": "Mg"}, {"x": 0.4, "y": -5.9, "t": "Al(VI)+Fe³+Ti"}, {"x": 101, "y": -5.9, "t": "Fe²+Mn"}]},
          "mark": {"type": "text", "fontSize": 13.5},
          "encoding": {"text": {"field": "t", "type": "nominal"}}
        },
        {
          "data": {"values": [
            {"x": 73.73, "y": 64.7, "t": "Phlogopite"}, {"x": 89.4, "y": 46.56, "t": "Magnesio biotite"},
            {"x": 66.7, "y": 24.4, "t": "Ferro biotite"}, {"x": 72.33, "y": 6.98, "t": "Syderophyllite"}
          ]},
          "mark": {"type": "text", "fontSize": 12.5},
          "encoding": {"text": {"field": "t", "type": "nominal"}}
        },
        {"data": {"values": [{"x": 50.47, "y": 49.69, "t": "Domain1+2"}]}, "mark": {"type": "text", "angle": 290, "fontSize": 8}, "encoding": {"text": {"field": "t", "type": "nominal"}}},
        {"data": {"values": [{"x": 69.93, "y": 39.71, "t": "Domain1+2+3"}]}, "mark": {"type": "text", "angle": 52, "fontSize": 8}, "encoding": {"text": {"field": "t", "type": "nominal"}}},
        {
          "data": {"values": [{"x": 2.95, "y": 92.3, "t": "(e)"}]},
          "layer": [
            {"mark": {"type": "point", "shape": "M-1.2,-1L1.2,-1L1.2,1L-1.2,1Z", "size": 324, "filled": false, "stroke": "#555555", "strokeWidth": 1.1, "opacity": 1}},
            {"mark": {"type": "text", "fontSize": 14}, "encoding": {"text": {"field": "t", "type": "nominal"}}}
          ]
        }
      ]
    }
  ]
}
